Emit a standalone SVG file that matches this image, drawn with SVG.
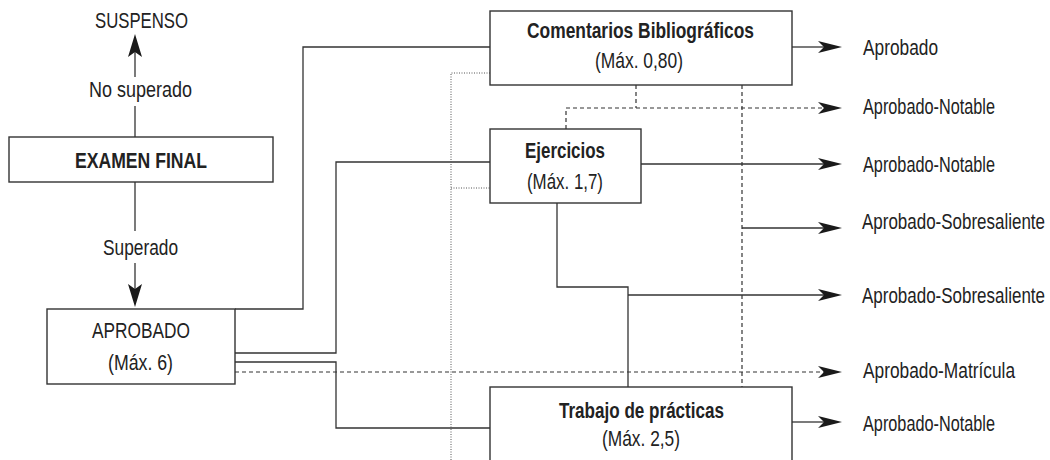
<svg xmlns="http://www.w3.org/2000/svg" width="1050" height="460" viewBox="0 0 1050 460">
<defs>
<style>
text{font-family:"Liberation Sans Narrow","Liberation Sans",Arial,sans-serif;font-size:22px;fill:#222;}
.c{text-anchor:middle;}
.b{font-weight:bold;}
.box{fill:#fff;stroke:#333;stroke-width:1.4;}
.ln{fill:none;stroke:#333;stroke-width:1.3;}
.da{fill:none;stroke:#333;stroke-width:1.2;stroke-dasharray:4 3;}
.dot{fill:none;stroke:#555;stroke-width:1;stroke-dasharray:1 1.5;}
.ah{fill:#1a1a1a;stroke:none;}
</style>
<path id="arr" d="M0,0 L-24,-6 L-18,0 L-24,6 Z"/>
<path id="bigarr" d="M0,0 L-7,-23 L0,-18 L7,-23 Z"/>
</defs>
<rect width="1050" height="460" fill="#fff"/>

<g id="connectors">
  <line class="ln" x1="135" y1="137" x2="135" y2="106"/>
  <line class="ln" x1="135" y1="77" x2="135" y2="50"/>
  <use href="#bigarr" class="ah" transform="translate(135,34) rotate(180)"/>
  <line class="ln" x1="135" y1="182" x2="135" y2="231"/>
  <line class="ln" x1="135" y1="263" x2="135" y2="292"/>
  <use href="#bigarr" class="ah" transform="translate(135,307)"/>
  <polyline class="ln" points="235,309 303,309 303,47 490,47"/>
  <polyline class="ln" points="235,353 336,353 336,162 490,162"/>
  <polyline class="ln" points="235,362 336,362 336,428 490,428"/>
  <line class="da" x1="235" y1="372" x2="824" y2="372"/>
  <use href="#arr" class="ah" transform="translate(842,372)"/>
  <polyline class="dot" points="490,73 451,73 451,460"/>
  <line class="dot" x1="451" y1="188" x2="490" y2="188"/>
  <line class="ln" x1="792" y1="47" x2="824" y2="47"/>
  <use href="#arr" class="ah" transform="translate(842,47)"/>
  <line class="da" x1="636" y1="85" x2="636" y2="108"/>
  <line class="da" x1="566" y1="129" x2="566" y2="108"/>
  <line class="da" x1="566" y1="108" x2="824" y2="108"/>
  <use href="#arr" class="ah" transform="translate(842,108)"/>
  <line class="ln" x1="641" y1="164" x2="824" y2="164"/>
  <use href="#arr" class="ah" transform="translate(842,164)"/>
  <line class="da" x1="742" y1="85" x2="742" y2="387"/>
  <line class="ln" x1="742" y1="228" x2="824" y2="228"/>
  <use href="#arr" class="ah" transform="translate(842,228)"/>
  <polyline class="ln" points="557,203 557,287 628,287 628,387"/>
  <line class="ln" x1="628" y1="295" x2="824" y2="295"/>
  <use href="#arr" class="ah" transform="translate(842,295)"/>
  <line class="ln" x1="792" y1="422" x2="824" y2="422"/>
  <use href="#arr" class="ah" transform="translate(842,422)"/>
</g>

<g id="suspenso">
  <text class="c" x="141.5" y="28" textLength="93" lengthAdjust="spacingAndGlyphs">SUSPENSO</text>
</g>
<g id="label-no-superado">
  <text class="c" x="140.5" y="97" textLength="103" lengthAdjust="spacingAndGlyphs">No superado</text>
</g>
<g id="examen-final">
  <rect class="box" x="9" y="137" width="264" height="45"/>
  <text class="c b" x="141" y="168" textLength="132" lengthAdjust="spacingAndGlyphs">EXAMEN FINAL</text>
</g>
<g id="label-superado">
  <text class="c" x="140.5" y="255" textLength="75" lengthAdjust="spacingAndGlyphs">Superado</text>
</g>
<g id="aprobado">
  <rect class="box" x="47" y="309" width="188" height="75"/>
  <text class="c" x="141" y="338" textLength="98" lengthAdjust="spacingAndGlyphs">APROBADO</text>
  <text class="c" x="140.5" y="370" textLength="65" lengthAdjust="spacingAndGlyphs">(Máx. 6)</text>
</g>
<g id="comentarios">
  <rect class="box" x="490" y="11" width="302" height="74"/>
  <text class="c b" x="640.5" y="38" textLength="227" lengthAdjust="spacingAndGlyphs">Comentarios Bibliográficos</text>
  <text class="c" x="639" y="68" textLength="88" lengthAdjust="spacingAndGlyphs">(Máx. 0,80)</text>
</g>
<g id="ejercicios">
  <rect class="box" x="490" y="129" width="151" height="74"/>
  <text class="c b" x="565" y="158" textLength="80" lengthAdjust="spacingAndGlyphs">Ejercicios</text>
  <text class="c" x="565" y="189" textLength="76" lengthAdjust="spacingAndGlyphs">(Máx. 1,7)</text>
</g>
<g id="trabajo">
  <rect class="box" x="490" y="387" width="302" height="100"/>
  <text class="c b" x="641.5" y="418" textLength="165" lengthAdjust="spacingAndGlyphs">Trabajo de prácticas</text>
  <text class="c" x="641" y="446" textLength="78" lengthAdjust="spacingAndGlyphs">(Máx. 2,5)</text>
</g>
<g id="out-aprobado"><text transform="translate(863,55) scale(0.78,1)" textLength="96.2" lengthAdjust="spacingAndGlyphs">Aprobado</text></g>
<g id="out-notable-1"><text transform="translate(863,114) scale(0.78,1)" textLength="169.2" lengthAdjust="spacingAndGlyphs">Aprobado-Notable</text></g>
<g id="out-notable-2"><text transform="translate(863,172) scale(0.78,1)" textLength="169.2" lengthAdjust="spacingAndGlyphs">Aprobado-Notable</text></g>
<g id="out-sobresaliente-1"><text transform="translate(862,229) scale(0.78,1)" textLength="234.6" lengthAdjust="spacingAndGlyphs">Aprobado-Sobresaliente</text></g>
<g id="out-sobresaliente-2"><text transform="translate(862,303) scale(0.78,1)" textLength="234.6" lengthAdjust="spacingAndGlyphs">Aprobado-Sobresaliente</text></g>
<g id="out-matricula"><text transform="translate(863,378) scale(0.78,1)" textLength="194.9" lengthAdjust="spacingAndGlyphs">Aprobado-Matrícula</text></g>
<g id="out-notable-3"><text transform="translate(863,431) scale(0.78,1)" textLength="169.2" lengthAdjust="spacingAndGlyphs">Aprobado-Notable</text></g>
</svg>
